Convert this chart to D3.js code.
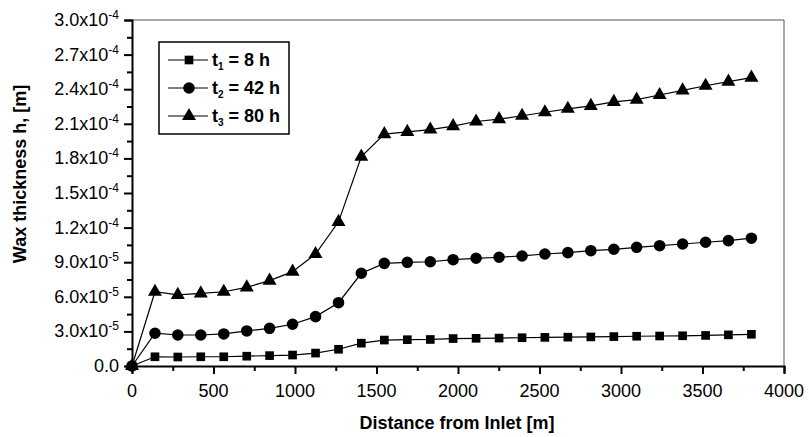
<!DOCTYPE html>
<html><head><meta charset="utf-8">
<script src="https://cdn.jsdelivr.net/npm/d3@7"></script>
<style>body{margin:0;background:#fff}svg{display:block}</style>
</head><body>
<svg id="c" width="809" height="437"></svg>
<script>
const distance = [0, 141, 281, 422, 563, 704, 844, 985, 1126, 1267, 1407, 1548, 1689, 1830, 1970, 2111, 2252, 2393, 2533, 2674, 2815, 2956, 3096, 3237, 3378, 3519, 3659, 3800];
const t1 = [0, 0.80, 0.78, 0.80, 0.80, 0.85, 0.90, 0.95, 1.12, 1.45, 1.98, 2.25, 2.28, 2.30, 2.38, 2.40, 2.42, 2.45, 2.48, 2.50, 2.52, 2.55, 2.58, 2.60, 2.62, 2.65, 2.70, 2.75].map(v => v * 1e-5);
const t2 = [0, 2.84, 2.69, 2.69, 2.78, 3.04, 3.27, 3.62, 4.28, 5.49, 8.04, 8.90, 8.99, 9.04, 9.22, 9.34, 9.43, 9.54, 9.71, 9.83, 10.0, 10.12, 10.29, 10.43, 10.58, 10.73, 10.87, 11.08].map(v => v * 1e-5);
const t3 = [0, 6.44, 6.16, 6.30, 6.44, 6.82, 7.40, 8.18, 9.71, 12.5, 18.15, 20.1, 20.3, 20.5, 20.8, 21.2, 21.4, 21.7, 22.0, 22.3, 22.55, 22.9, 23.1, 23.5, 23.9, 24.3, 24.65, 25.0].map(v => v * 1e-5);
const seriesNames = ["t1 = 8 h", "t2 = 42 h", "t3 = 80 h"];
const xTicks = [0, 500, 1000, 1500, 2000, 2500, 3000, 3500, 4000];
const yTicks = [0, 3e-5, 6e-5, 9e-5, 1.2e-4, 1.5e-4, 1.8e-4, 2.1e-4, 2.4e-4, 2.7e-4, 3.0e-4];
const yTickMant = ["0.0", "3.0", "6.0", "9.0", "1.2", "1.5", "1.8", "2.1", "2.4", "2.7", "3.0"];
const yTickExp = ["", "-5", "-5", "-5", "-4", "-4", "-4", "-4", "-4", "-4", "-4"];

const svg = d3.select("#c");
const L = 132, R = 784, T = 20, B = 366;
const x = d3.scaleLinear().domain([0, 4000]).range([L, R]);
const y = d3.scaleLinear().domain([0, 3e-4]).range([B, T]);
const font = "'Liberation Sans', Arial, sans-serif";

// frame top/right
svg.append("line").attr("x1", L).attr("x2", R).attr("y1", T).attr("y2", T).attr("stroke", "#555").attr("stroke-width", 1);
svg.append("line").attr("x1", R).attr("x2", R).attr("y1", T).attr("y2", B).attr("stroke", "#555").attr("stroke-width", 1);

// x axis
const gx = svg.append("g").attr("transform", `translate(0,${B})`);
gx.call(d3.axisBottom(x).tickValues(d3.range(0, 4001, 250)).tickSize(7).tickFormat(""));
gx.select(".domain").attr("stroke-width", 2);
gx.selectAll(".tick line").attr("stroke-width", 2).attr("y2", d => d % 500 === 0 ? 8 : 5);
gx.selectAll(".xl").data(xTicks).enter().append("text")
  .attr("x", d => x(d)).attr("y", 31).attr("text-anchor", "middle")
  .attr("font-family", font).attr("font-size", 18).attr("fill", "#000").text(d => d);

// y axis
const gy = svg.append("g").attr("transform", `translate(${L},0)`);
gy.call(d3.axisLeft(y).tickValues(d3.range(0, 21).map(i => i * 1.5e-5)).tickSize(7).tickFormat(""));
gy.select(".domain").attr("stroke-width", 2);
gy.selectAll(".tick line").attr("stroke-width", 2).attr("x2", (d, i) => i % 2 === 0 ? -8 : -5);
const yl = gy.selectAll(".yl").data(yTicks).enter().append("text")
  .attr("x", -13).attr("y", d => y(d) + 6).attr("text-anchor", "end")
  .attr("font-family", font).attr("font-size", 18).attr("fill", "#000");
yl.append("tspan").text((d, i) => yTickMant[i] + (yTickExp[i] ? "x10" : ""));
yl.append("tspan").attr("font-size", 12).attr("dy", -7).text((d, i) => yTickExp[i]);

// axis titles
svg.append("text").attr("x", 457).attr("y", 429).attr("text-anchor", "middle")
  .attr("font-family", font).attr("font-weight", "bold").attr("font-size", 18).text("Distance from Inlet [m]");
svg.append("text").attr("transform", `translate(26,174) rotate(-90)`).attr("text-anchor", "middle")
  .attr("font-family", font).attr("font-weight", "bold").attr("font-size", 18).text("Wax thickness h, [m]");

const series = [t1, t2, t3];
const line = d3.line().x((d, i) => x(distance[i])).y(d => y(d));
const sym = [d3.symbolSquare, d3.symbolCircle, d3.symbolTriangle];
const symSize = [75, 105, 85];

series.forEach((s, si) => {
  svg.append("path").datum(s).attr("d", line).attr("fill", "none").attr("stroke", "#000").attr("stroke-width", 1.2);
  svg.append("g").selectAll("path").data(s).enter().append("path")
    .attr("d", d3.symbol().type(sym[si]).size(symSize[si]))
    .attr("transform", (d, i) => `translate(${x(distance[i])},${y(d)})`)
    .attr("fill", "#000");
});

// legend
const lg = svg.append("g");
lg.append("rect").attr("x", 159).attr("y", 42).attr("width", 130).attr("height", 92)
  .attr("fill", "#fff").attr("stroke", "#000").attr("stroke-width", 1.5);
seriesNames.forEach((n, i) => {
  const yy = 60 + i * 28;
  lg.append("line").attr("x1", 168).attr("x2", 208).attr("y1", yy).attr("y2", yy).attr("stroke", "#000").attr("stroke-width", 1.2);
  lg.append("path").attr("d", d3.symbol().type(sym[i]).size(symSize[i])).attr("transform", `translate(189,${yy})`).attr("fill", "#000");
  const parts = n.split(" = ");
  const t = lg.append("text").attr("x", 212).attr("y", yy + 6).attr("font-family", font).attr("font-weight", "bold").attr("font-size", 18);
  t.append("tspan").text("t");
  t.append("tspan").attr("font-size", 10).attr("dy", 4).text(parts[0].slice(1));
  t.append("tspan").attr("dy", -4).text(" = " + parts[1]);
});
</script>
</body></html>
